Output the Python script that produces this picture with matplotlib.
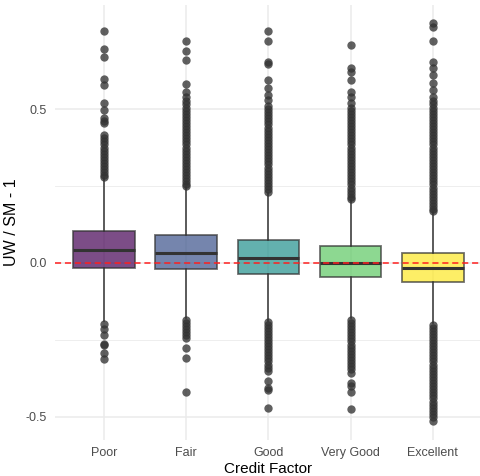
import matplotlib
matplotlib.use("Agg")
import matplotlib.pyplot as plt
from matplotlib.ticker import FixedLocator

plt.rcParams["font.family"] = ["Liberation Sans", "DejaVu Sans"]

categories = ["Poor", "Fair", "Good", "Very Good", "Excellent"]
colors = ["#440154", "#3B528B", "#21908C", "#5DC863", "#FDE725"]

q1 = [-0.016, -0.019, -0.036, -0.045, -0.062]
med = [0.042, 0.032, 0.016, 0.000, -0.016]
q3 = [0.104, 0.091, 0.075, 0.055, 0.032]
whislo = [-0.190, -0.180, -0.188, -0.180, -0.195]
whishi = [0.276, 0.247, 0.228, 0.205, 0.166]

# outliers per credit factor
fliers_poor = [0.753, 0.695, 0.669, 0.597, 0.578, 0.519, 0.497, 0.470, 0.462, 0.455,
               0.416, 0.406, 0.395, 0.385, 0.375, 0.365, 0.355, 0.345, 0.335, 0.325,
               0.315, 0.305, 0.295, 0.285, 0.280,
               -0.198, -0.214, -0.233, -0.263, -0.268, -0.292, -0.312]
fliers_fair = [0.720, 0.690, 0.660, 0.580, 0.555, 0.540, 0.525, 0.515, 0.505, 0.495,
               0.485, 0.475, 0.465, 0.455, 0.445, 0.435, 0.425, 0.415, 0.405, 0.395,
               0.385, 0.375, 0.365, 0.355, 0.345, 0.335, 0.325, 0.315, 0.305, 0.295,
               0.285, 0.275, 0.265, 0.255, 0.250,
               -0.185, -0.195, -0.205, -0.215, -0.225, -0.235, -0.245, -0.276, -0.310, -0.420]
fliers_good = [0.753, 0.720, 0.652, 0.645, 0.594, 0.570, 0.545, 0.530, 0.510, 0.500,
               0.490, 0.480, 0.470, 0.460, 0.450, 0.440, 0.430, 0.420, 0.410, 0.400,
               0.390, 0.380, 0.370, 0.360, 0.350, 0.340, 0.330, 0.320, 0.310, 0.300,
               0.290, 0.280, 0.270, 0.260, 0.250, 0.240, 0.232,
               -0.192, -0.200, -0.210, -0.220, -0.230, -0.240, -0.250, -0.260, -0.270,
               -0.280, -0.290, -0.300, -0.310, -0.320, -0.330, -0.340, -0.350,
               -0.383, -0.405, -0.412, -0.470]
fliers_vgood = [0.708, 0.633, 0.620, 0.594, 0.555, 0.540, 0.520, 0.505, 0.495, 0.485,
                0.475, 0.465, 0.455, 0.445, 0.435, 0.425, 0.415, 0.405, 0.395, 0.385,
                0.375, 0.365, 0.355, 0.345, 0.335, 0.325, 0.315, 0.305, 0.295, 0.285,
                0.275, 0.265, 0.255, 0.245, 0.235, 0.225, 0.215, 0.208,
                -0.185, -0.195, -0.205, -0.215, -0.225, -0.235, -0.245, -0.255, -0.265,
                -0.275, -0.285, -0.295, -0.305, -0.315, -0.325, -0.335, -0.345, -0.357,
                -0.390, -0.400, -0.420, -0.475]
fliers_exc = [0.780, 0.766, 0.720, 0.652, 0.633, 0.610, 0.585, 0.562, 0.540, 0.525,
              0.515, 0.505, 0.495, 0.485, 0.475, 0.465, 0.455, 0.445, 0.435, 0.425,
              0.415, 0.405, 0.395, 0.385, 0.375, 0.365, 0.355, 0.345, 0.335, 0.325,
              0.315, 0.305, 0.295, 0.285, 0.275, 0.265, 0.255, 0.245, 0.235, 0.225,
              0.215, 0.205, 0.195, 0.185, 0.175, 0.170,
              -0.200, -0.210, -0.220, -0.230, -0.240, -0.250, -0.260, -0.270, -0.280,
              -0.290, -0.300, -0.310, -0.320, -0.330, -0.340, -0.350, -0.360, -0.370,
              -0.380, -0.390, -0.400, -0.410, -0.420, -0.430, -0.440, -0.450, -0.460,
              -0.470, -0.480, -0.490, -0.500, -0.513]
fliers = [fliers_poor, fliers_fair, fliers_good, fliers_vgood, fliers_exc]

stats = []
for i, name in enumerate(categories):
    stats.append(dict(label=name, med=med[i], q1=q1[i], q3=q3[i],
                      whislo=whislo[i], whishi=whishi[i], fliers=fliers[i]))

fig = plt.figure(figsize=(4.8, 4.76), dpi=100)
ax = fig.add_axes([54.7 / 480, 36 / 476, 427.5 / 480, 435 / 476])

positions = list(range(1, len(categories) + 1))
bp = ax.bxp(stats, positions=positions, widths=0.75, patch_artist=True,
            boxprops=dict(edgecolor="#333333", linewidth=1.3),
            medianprops=dict(color="#333333", linewidth=2.2),
            whiskerprops=dict(color="#333333", linewidth=1.1),
            capprops=dict(linewidth=0),
            flierprops=dict(marker="o", markerfacecolor="#333333", markeredgecolor="none",
                            markersize=6.0, alpha=0.78),
            zorder=3)
for patch, c in zip(bp["boxes"], colors):
    patch.set_facecolor(c)
    patch.set_alpha(0.7)
    patch.set_edgecolor("#333333")

ax.axhline(0, color="#FF2020", linestyle=(0, (4, 2.5)), linewidth=1.1, zorder=4)

ax.set_xlim(0.4, 5.6)
ax.set_ylim(-0.575, 0.838)
ax.set_xticks(positions)
ax.set_xticklabels(categories)
ax.set_yticks([-0.5, 0.0, 0.5])
ax.set_yticklabels(["-0.5", "0.0", "0.5"])
ax.yaxis.set_minor_locator(FixedLocator([-0.25, 0.25]))

ax.grid(True, which="major", color="#EBEBEB", linewidth=1.1, zorder=0)
ax.grid(True, which="minor", axis="y", color="#EBEBEB", linewidth=0.6, zorder=0)
ax.set_axisbelow(True)
for s in ax.spines.values():
    s.set_visible(False)
ax.tick_params(which="both", length=0, labelsize=9, labelcolor="#4D4D4D")
ax.tick_params(axis="x", pad=5)
ax.tick_params(axis="y", pad=5.5)

ax.set_xlabel("Credit Factor", fontsize=11, color="black", labelpad=2)
ax.set_ylabel("UW / SM - 1", fontsize=11.5, color="black", labelpad=5)

fig.savefig("out.png", dpi=100)
